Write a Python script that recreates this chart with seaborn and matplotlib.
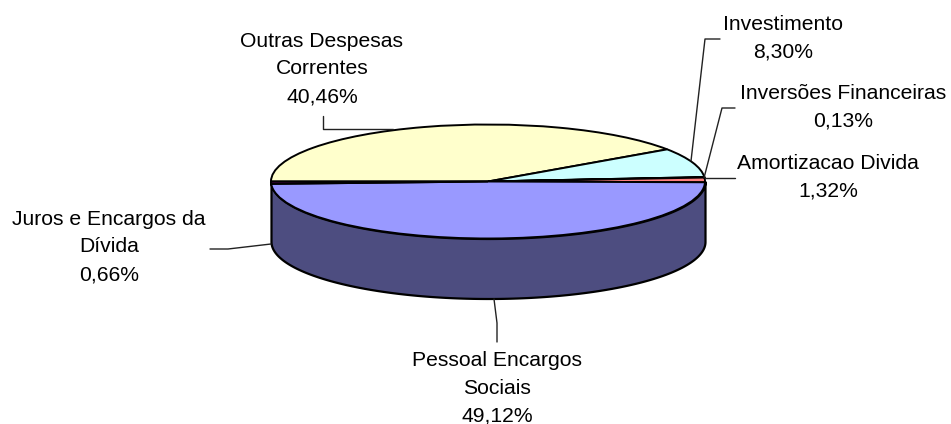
import matplotlib
matplotlib.use('Agg')
import matplotlib.pyplot as plt
from matplotlib.transforms import Affine2D
import numpy as np
import seaborn as sns

categories = ['Outras Despesas\nCorrentes', 'Investimento', 'Inversões Financeiras',
              'Amortizacao Divida', 'Pessoal Encargos\nSociais', 'Juros e Encargos da\nDívida']
values = [40.46, 8.30, 0.13, 1.32, 49.12, 0.66]
colors = ['#FFFFCC', '#CCFFFF', '#660066', '#FF8080', '#9999FF', '#660066']

sns.set_theme(style='white')
plt.rcParams['font.family'] = ['Liberation Sans', 'DejaVu Sans']

W, H = 951, 424
fig = plt.figure(figsize=(W / 100, H / 100), dpi=100)
ax = fig.add_axes([0, 0, 1, 1])

# pie centre and radii on the canvas, in pixels
cx, cy, rx, ry, depth = 488, 181.5, 217, 57, 60

# side wall of the cylinder
t = np.linspace(np.pi, 2 * np.pi, 200)
ax.fill_between(np.cos(t), np.sin(t), np.sin(t) - depth / ry, color='#4D4D80', edgecolor='black', linewidth=1.6)

# top, squashed to an ellipse by the axes limits
ax.pie(values, colors=sns.color_palette(colors), startangle=180, counterclock=False, radius=1,
       wedgeprops={'edgecolor': 'black', 'linewidth': 1.4})
ax.set_aspect('auto')
ax.set_xlim(-cx / rx, (W - cx) / rx)
ax.set_ylim((cy - H) / ry, cy / ry)
ax.set_axis_off()

# leaders and labels are placed in canvas pixels
px = Affine2D().scale(1 / W, -1 / H).translate(0, 1) + fig.transFigure
leaders = [
    ([323, 323, 393], [116, 129, 129]),
    ([720, 705, 691], [39, 39, 161]),
    ([735, 722, 704], [108, 108, 178]),
    ([705, 735], [178, 178]),
    ([494, 497, 497], [299, 323, 342]),
    ([210, 228, 271], [249, 249, 244]),
]
for xs, ys in leaders:
    ax.plot(xs, ys, color='#222222', linewidth=1, transform=px)

label_pos = [(322, 69), (783, 38), (843, 107.5), (828, 177), (497, 388), (109, 247)]
for name, val, (lx, ly) in zip(categories, values, label_pos):
    txt = name + '\n' + f'{val:.2f}'.replace('.', ',') + '%'
    ax.text(lx, ly, txt, transform=px, ha='center', va='center', fontsize=15.2, color='black', linespacing=1.58)

fig.savefig('out.png', dpi=100)
plt.close()
